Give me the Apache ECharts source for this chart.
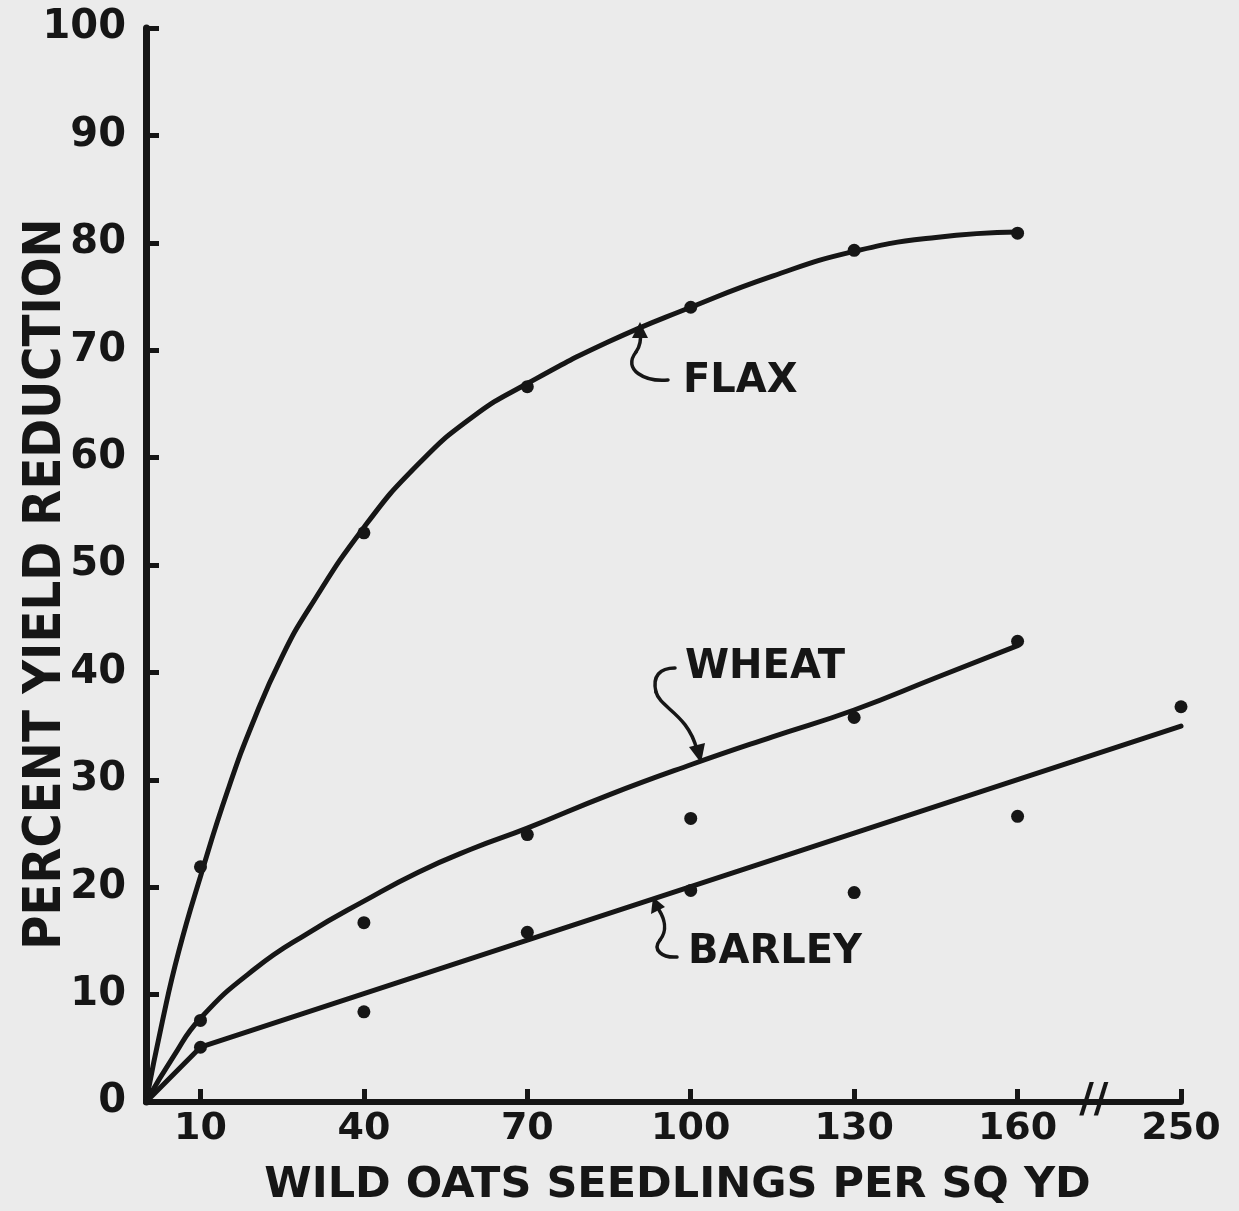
<!DOCTYPE html>
<html>
<head>
<meta charset="utf-8">
<script src="https://cdn.jsdelivr.net/npm/echarts@6/dist/echarts.min.js"></script>
<style>
  html, body { margin: 0; padding: 0; background: #ebebeb; }
  #chart { width: 1239px; height: 1211px; }
</style>
</head>
<body>
<div id="chart"></div>
<script>
// tick labels on the x axis (250 sits after the axis break)
var xTicks = [10, 40, 70, 100, 130, 160, 250];
var yTicks = [10, 20, 30, 40, 50, 60, 70, 80, 90, 100];

// observed points
var flaxX = [10, 40, 70, 100, 130, 160];
var flaxY = [21.9, 53, 66.6, 74, 79.3, 80.9];
var wheatX = [10, 40, 70, 100, 130, 160];
var wheatY = [7.6, 16.7, 24.9, 26.4, 35.8, 42.9];
var barleyX = [10, 40, 70, 100, 130, 160, 250];
var barleyY = [5.1, 8.4, 15.8, 19.7, 19.5, 26.6, 36.8];

// fitted curves
var flaxFitX = [0, 3, 6, 10, 15, 20, 25, 30, 40, 50, 60, 70, 85, 100, 115, 130, 145, 160];
var flaxFitY = [0, 7.5, 14, 21, 29, 35.8, 41.5, 46, 53.5, 59.4, 63.8, 66.9, 70.8, 74, 76.9, 79.2, 80.5, 81];
var wheatFitX = [0, 5, 10, 20, 30, 40, 50, 60, 70, 85, 100, 115, 130, 145, 160];
var wheatFitY = [0, 4.2, 7.8, 12.4, 15.8, 18.7, 21.4, 23.6, 25.5, 28.6, 31.4, 34, 36.5, 39.5, 42.5];
var barleyFitX = [0, 10, 250];
var barleyFitY = [0, 5.1, 35];

// axis is broken between 160 and 250: squeeze that stretch to a third
function pos(x) { return x <= 160 ? x : 160 + (x - 160) / 3; }
function pairs(xs, ys) { return xs.map(function (x, i) { return [pos(x), ys[i]]; }); }

var ink = '#161616';
var font = 'DejaVu Sans';

var lineSeries = function (name, xs, ys, smooth) {
  return {
    name: name, type: 'line', data: pairs(xs, ys),
    smooth: smooth ? 0.5 : false,
    showSymbol: false, silent: true,
    lineStyle: { color: ink, width: 5, cap: 'round', join: 'round' }
  };
};
var dotSeries = function (name, xs, ys) {
  return {
    name: name, type: 'scatter', data: pairs(xs, ys),
    symbolSize: 13, itemStyle: { color: ink, opacity: 1 }, z: 5
  };
};

var myChart = echarts.init(document.getElementById('chart'));
myChart.setOption({
  backgroundColor: '#ebebeb',
  animation: false,
  grid: { left: 146, right: 58, top: 28, bottom: 109, containLabel: false, outerBoundsMode: 'none' },
  xAxis: {
    type: 'value', min: 0, max: pos(250),
    splitLine: { show: false },
    axisLine: { lineStyle: { color: ink, width: 6 } },
    axisTick: { inside: true, length: 13, lineStyle: { color: ink, width: 5 },
      customValues: xTicks.map(pos) },
    axisLabel: { customValues: xTicks.map(pos), margin: 8, color: ink,
      fontFamily: font, fontWeight: 'bold', fontSize: 38,
      formatter: function (v) { return v > 160 ? '250' : String(Math.round(v)); } },
    name: 'WILD OATS SEEDLINGS PER SQ YD', nameLocation: 'middle', nameGap: 62,
    nameMoveOverlap: false,
    nameTextStyle: { color: ink, fontFamily: font, fontWeight: 'bold', fontSize: 43, padding: [0, 0, 0, 28] }
  },
  yAxis: {
    type: 'value', min: 0, max: 100, interval: 10,
    splitLine: { show: false },
    axisLine: { lineStyle: { color: ink, width: 7 } },
    axisTick: { inside: true, length: 13, lineStyle: { color: ink, width: 5 },
      customValues: yTicks },
    axisLabel: { customValues: [0].concat(yTicks), margin: 20, color: ink,
      fontFamily: font, fontWeight: 'bold', fontSize: 40 },
    name: 'PERCENT YIELD REDUCTION', nameLocation: 'middle', nameGap: 74, nameRotate: 90,
    nameMoveOverlap: false,
    nameTextStyle: { color: ink, fontFamily: 'DejaVu Sans Condensed', fontWeight: 'bold', fontSize: 52,
      padding: [0, 38, 0, 0] }
  },
  series: [
    lineSeries('Flax fit', flaxFitX, flaxFitY, true),
    lineSeries('Wheat fit', wheatFitX, wheatFitY, true),
    lineSeries('Barley fit', barleyFitX, barleyFitY, false),
    dotSeries('Flax', flaxX, flaxY),
    dotSeries('Wheat', wheatX, wheatY),
    dotSeries('Barley', barleyX, barleyY)
  ]
});

// annotations: crop names with curly pointer arrows, and the axis break mark
var breakAt = myChart.convertToPixel({ gridIndex: 0 }, [174, 0]);
var txt = { fill: ink, fontFamily: font, fontWeight: 'bold', fontSize: 40 };
var arrow = { stroke: ink, lineWidth: 3.5, fill: null, lineCap: 'round' };
function curve(a, b, c, d) {
  return { type: 'bezierCurve', silent: true, style: arrow,
    shape: { x1: a[0], y1: a[1], cpx1: b[0], cpy1: b[1], cpx2: c[0], cpy2: c[1], x2: d[0], y2: d[1] } };
}
function head(pts) { return { type: 'polygon', silent: true, shape: { points: pts }, style: { fill: ink } }; }

myChart.setOption({
  graphic: [
    { type: 'text', x: 683, y: 362, style: Object.assign({ text: 'FLAX' }, txt) },
    { type: 'text', x: 685, y: 648, style: Object.assign({ text: 'WHEAT' }, txt) },
    { type: 'text', x: 688, y: 933, style: Object.assign({ text: 'BARLEY' }, txt) },
    curve([668, 380], [645, 382], [622, 370], [636, 352]),
    curve([636, 352], [641, 345], [641, 338], [640, 332]),
    head([[632, 338], [648, 338], [640, 322]]),
    curve([675, 668], [660, 668], [652, 676], [656, 692]),
    curve([656, 692], [660, 708], [688, 714], [697, 750]),
    head([[689, 747], [705, 743], [701, 763]]),
    curve([677, 957], [662, 958], [652, 950], [660, 940]),
    curve([660, 940], [668, 930], [664, 918], [659, 910]),
    head([[651, 914], [665, 907], [653, 897]]),
    { type: 'text', x: breakAt[0], y: breakAt[1], style: { text: '//', fill: ink, fontFamily: font,
      fontWeight: 'bold', fontSize: 40, align: 'center', verticalAlign: 'middle' } }
  ]
});
</script>
</body>
</html>
